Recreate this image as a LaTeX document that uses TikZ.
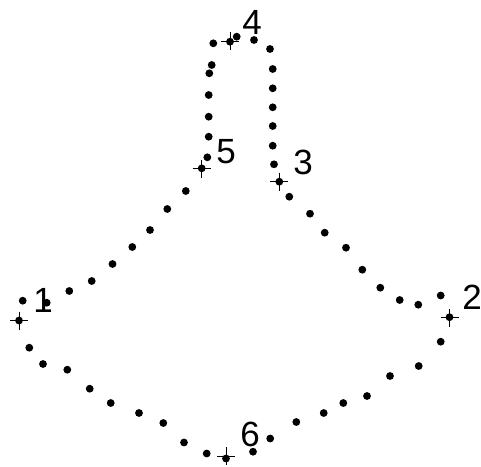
\documentclass[tikz,border=0pt]{standalone}
\usepackage{fontspec}
\setmainfont{Liberation Sans}
\begin{document}
\begin{tikzpicture}[x=1pt,y=-1pt,
  dotmark/.style={fill=black,draw=none},
  crossmark/.style={draw=black,line width=0.9pt},
  numlabel/.style={inner sep=0pt,font=\fontsize{35}{35}\selectfont}]
\useasboundingbox (0,0) rectangle (481,466);
\foreach \x/\y in {213.3/43.3,230/41.7,236.7/36.7,254/40,270/49,272.7/69,272.7/88.3,272.7/107.3,272.7/126,272.7/145.7,274/164.3,279.3/181.7,289.3/196.7,310/213.7,324.7/232.7,346/247.7,362.3/269.7,380.3/287.7,399.7/300,418.3/304.7,440.7/295.5,449.5/317.2,440.7/341.7,418.7/366,390/376,367/396,343.3/403,323.7/413,296.3/422,270.2/438.5,253/451.7,226/458.5,206.7/453.5,184/442.5,163.3/423,139/413,110.7/403,89.7/388.7,67.3/369.7,43/364,29.3/347.7,19/320.5,22.7/300.7,46.7/302.7,69.3/291,91.7/281,112.5/264,132.3/247,150/230,167.3/209,185.8/191,201.7/168.3,207.3/157.3,208.7/136.7,208.7/116.7,208.7/95,209.3/73.3,211.7/65}
  {\fill[dotmark] (\x,\y) circle (3.9);}
\foreach \x/\y in {230/41,279.3/181.5,449.5/317.5,226/456,19/320.5,201.7/168.5}
  {\draw[crossmark] (\x-9,\y) -- (\x+9,\y) (\x,\y-9) -- (\x,\y+9);}
\node[numlabel] (l1) at (43,300) {1};
\node[numlabel] (l2) at (472,297) {2};
\node[numlabel] (l3) at (303,162) {3};
\node[numlabel] (l4) at (252,22) {4};
\node[numlabel] (l5) at (226,152) {5};
\node[numlabel] (l6) at (250,434) {6};
\end{tikzpicture}
\end{document}
